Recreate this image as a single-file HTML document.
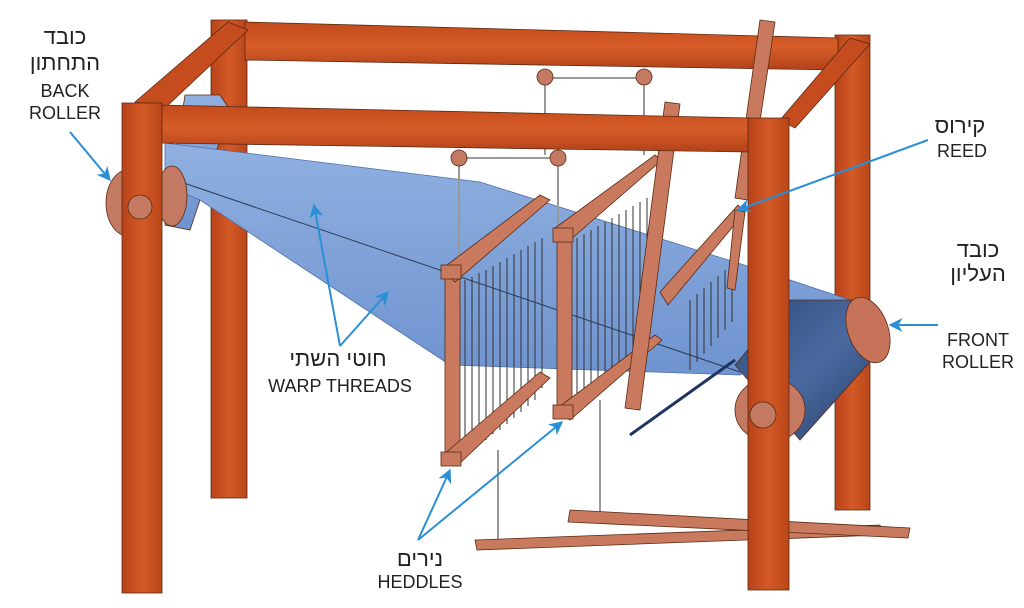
<!DOCTYPE html>
<html><head><meta charset="utf-8"><style>
html,body{margin:0;padding:0;background:#fff;}
svg{display:block;}
text{font-family:"Liberation Sans","Noto Sans CJK SC",sans-serif;fill:#222;}
</style></head><body>
<svg width="1024" height="608" viewBox="0 0 1024 608" xmlns="http://www.w3.org/2000/svg">
<defs>
<linearGradient id="wood" x1="0" x2="1"><stop offset="0" stop-color="#b8421a"/><stop offset=".5" stop-color="#d35a26"/><stop offset="1" stop-color="#b94519"/></linearGradient>
<linearGradient id="woodh" x1="0" y1="0" x2="0" y2="1"><stop offset="0" stop-color="#c24a1c"/><stop offset=".5" stop-color="#d65d28"/><stop offset="1" stop-color="#b3421a"/></linearGradient>
<linearGradient id="warp" x1="0" y1="0" x2="0" y2="1"><stop offset="0" stop-color="#8fb0e0"/><stop offset="1" stop-color="#6f93cf"/></linearGradient>
<linearGradient id="navy" x1="0" y1="0" x2="1" y2="1"><stop offset="0" stop-color="#2f4a78"/><stop offset=".5" stop-color="#4a6aa0"/><stop offset="1" stop-color="#243a63"/></linearGradient>
<marker id="ar" viewBox="0 0 10 10" refX="9" refY="5" markerWidth="7" markerHeight="7" orient="auto"><path d="M0,0 L10,5 L0,10 L3,5z" fill="#2a8fd6"/></marker>
</defs>
<g stroke="#5a2a12" stroke-width="0.8">
<!-- back posts -->
<rect x="211" y="20" width="36" height="478" fill="url(#wood)"/>
<rect x="835" y="35" width="35" height="475" fill="url(#wood)"/>
<!-- back top beam -->
<polygon points="245,22 838,38 838,70 245,60" fill="url(#woodh)"/>
<!-- side beams -->
<polygon points="135,102 228,22 248,30 165,108" fill="#c44c1e"/>
<polygon points="780,120 850,38 870,44 795,128" fill="#c44c1e"/>
<!-- back roller -->
<polygon points="185,95 220,95 230,110 190,230 165,225" fill="url(#warp)"/>
<!-- warp -->
<polygon points="165,143 480,182 760,270 850,300 740,375 450,365 200,200 165,185" fill="url(#warp)" stroke="#4e6ea6"/>
<line x1="175" y1="180" x2="740" y2="372" stroke="#2b3a55" stroke-width="1"/>
<!-- front roller -->
<polygon points="790,300 858,300 885,345 800,440 735,365" fill="url(#navy)"/>
<ellipse cx="868" cy="330" rx="20" ry="34" fill="#c7735a" transform="rotate(-20 868 330)"/>
<ellipse cx="770" cy="410" rx="35" ry="32" fill="#c47a62"/>
<path d="M630,435 L735,360" stroke="#1e3560" stroke-width="3" fill="none"/>
<!-- back roller disks -->
<ellipse cx="128" cy="203" rx="22" ry="33" fill="#c47a62"/>
<ellipse cx="172" cy="196" rx="15" ry="30" fill="#c47a62"/>
<!-- pulley cords -->
<g stroke="#999" stroke-width="2" fill="none">
<path d="M545,78 L545,155 M644,78 L644,155 M545,78 L644,78"/>
<path d="M459,158 L459,270 M558,158 L558,230 M459,158 L558,158"/>
<path d="M498,450 L498,548 M600,400 L600,520"/>
</g>
<circle cx="545" cy="77" r="8" fill="#c47a62"/><circle cx="644" cy="77" r="8" fill="#c47a62"/>
<circle cx="459" cy="158" r="8" fill="#c47a62"/><circle cx="558" cy="158" r="8" fill="#c47a62"/>
<!-- heddle strings -->
<g stroke="#333" stroke-width="1">
<path d="M465,280v175 M472,277v172 M479,273v172 M486,270v170 M493,266v168 M500,262v168 M507,258v166 M514,254v164 M521,250v162 M528,246v160 M535,242v158 M542,238v150"/>
<path d="M577,238v175 M584,234v172 M591,230v170 M598,226v168 M605,222v166 M612,218v164 M619,214v162 M626,210v160 M633,206v158 M640,202v154 M647,198v150"/>
<path d="M690,300v70 M697,294v68 M704,288v66 M711,282v64 M718,276v62 M725,270v60 M732,264v58"/>
</g>
<!-- heddle frames -->
<g fill="#c97a5e">
<rect x="445" y="275" width="15" height="185"/>
<polygon points="443,268 540,195 550,200 455,282"/>
<polygon points="443,455 540,372 550,378 458,465"/>
<rect x="441" y="452" width="20" height="14"/>
<rect x="441" y="265" width="20" height="14"/>
<rect x="557" y="235" width="15" height="180"/>
<polygon points="555,228 655,155 662,160 570,240"/>
<polygon points="555,410 655,335 662,340 570,420"/>
<rect x="553" y="405" width="20" height="14"/>
<rect x="553" y="228" width="20" height="14"/>
<!-- reed -->
<polygon points="665,102 680,104 640,410 625,408"/>
<polygon points="660,292 738,205 745,212 668,305"/>
<polygon points="735,210 745,212 735,290 727,288"/>
<polygon points="760,20 775,22 748,200 735,198"/>
<!-- treadles -->
<polygon points="475,540 880,525 882,535 477,550"/>
<polygon points="570,510 910,528 908,538 568,522"/>
</g>
<!-- front posts and beam -->
<polygon points="160,105 750,118 750,152 160,143" fill="url(#woodh)"/>
<rect x="122" y="103" width="40" height="490" fill="url(#wood)"/>
<rect x="748" y="118" width="41" height="472" fill="url(#wood)"/>
<circle cx="140" cy="207" r="12" fill="#c47a62"/>
<circle cx="763" cy="415" r="13" fill="#c47a62"/>
</g>
<!-- arrows -->
<g stroke="#2a8fd6" stroke-width="2" fill="none" marker-end="url(#ar)">
<line x1="70" y1="132" x2="110" y2="180"/>
<line x1="340" y1="346" x2="314" y2="205"/>
<line x1="340" y1="346" x2="388" y2="292"/>
<line x1="418" y1="540" x2="450" y2="470"/>
<line x1="418" y1="540" x2="562" y2="422"/>
<line x1="928" y1="140" x2="738" y2="210"/>
<line x1="938" y1="325" x2="890" y2="325"/>
</g>
<g font-size="18" text-anchor="middle">
<text x="65" y="44" font-size="22">כובד</text>
<text x="65" y="70" font-size="22">התחתון</text>
<text x="65" y="97">BACK</text>
<text x="65" y="119">ROLLER</text>
<text x="338" y="366" font-size="22">חוטי השתי</text>
<text x="340" y="392">WARP THREADS</text>
<text x="420" y="566" font-size="22">נירים</text>
<text x="420" y="588">HEDDLES</text>
<text x="960" y="133" font-size="22">קירוס</text>
<text x="962" y="157">REED</text>
<text x="978" y="257" font-size="22">כובד</text>
<text x="978" y="281" font-size="22">העליון</text>
<text x="978" y="346">FRONT</text>
<text x="978" y="368">ROLLER</text>
</g>
</svg>
</body></html>
